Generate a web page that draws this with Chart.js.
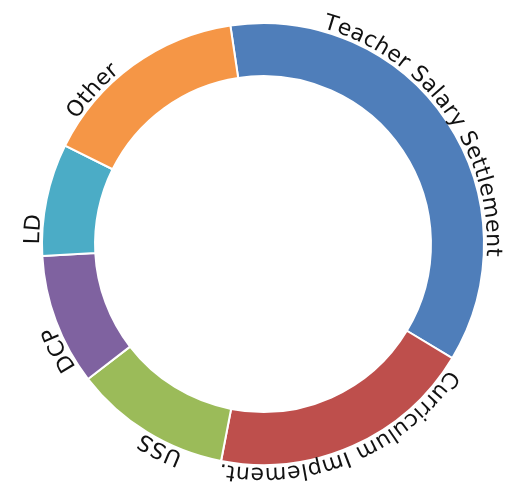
<!DOCTYPE html>
<html>
<head>
<meta charset="utf-8">
<script src="https://cdn.jsdelivr.net/npm/chart.js@4"></script>
<style>
  html, body { margin: 0; padding: 0; background: #fff; }
  #wrap { width: 519px; height: 492px; }
</style>
</head>
<body>
<div id="wrap"><canvas id="c" width="519" height="492"></canvas></div>
<script>
const labels = ['Teacher Salary Settlement', 'Curriculum Implement.', 'USS', 'DCP', 'LD', 'Other'];
const values = [36, 19.4, 11.5, 9.6, 8.2, 15.3];
const colors = ['#4F7EBA', '#BE4F4C', '#9BBB59', '#7F62A0', '#4BACC6', '#F59646'];
// small angular nudge (degrees) of each label from the middle of its slice
const labelNudge = [-2, 1.5, -5, -7, -8, -12];

// writes each label along the outside of its slice, letter by letter
const arcLabels = {
    id: 'arcLabels',
    afterDatasetsDraw(chart) {
        const ctx = chart.ctx;
        const meta = chart.getDatasetMeta(0);
        ctx.save();
        ctx.font = '22px "DejaVu Sans"';
        ctx.fillStyle = '#111';
        ctx.textAlign = 'center';
        ctx.textBaseline = 'alphabetic';
        const spacing = 0.4;
        meta.data.forEach((arc, i) => {
            const p = arc.getProps(['x', 'y', 'startAngle', 'endAngle', 'outerRadius'], true);
            const r = p.outerRadius + 3;
            const mid = (p.startAngle + p.endAngle) / 2 + labelNudge[i] * Math.PI / 180;
            const text = chart.data.labels[i];
            let total = 0;
            for (const ch of text) total += ctx.measureText(ch).width + spacing;
            total -= spacing;
            let a = mid - (total / 2) / r;
            for (const ch of text) {
                const w = ctx.measureText(ch).width;
                const ca = a + (w / 2) / r;
                ctx.save();
                ctx.translate(p.x + r * Math.cos(ca), p.y + r * Math.sin(ca));
                ctx.rotate(ca + Math.PI / 2);
                ctx.fillText(ch, 0, 0);
                ctx.restore();
                a += (w + spacing) / r;
            }
        });
        ctx.restore();
    }
};

new Chart(document.getElementById('c'), {
    type: 'doughnut',
    data: {
        labels: labels,
        datasets: [{
            data: values,
            backgroundColor: colors,
            borderColor: '#ffffff',
            borderWidth: 2
        }]
    },
    options: {
        responsive: false,
        animation: false,
        rotation: -8.5,
        cutout: '76%',
        layout: { padding: { left: 41, right: 34, top: 22, bottom: 26 } },
        plugins: {
            legend: { display: false },
            tooltip: { enabled: false }
        }
    },
    plugins: [arcLabels]
});
</script>
</body>
</html>
